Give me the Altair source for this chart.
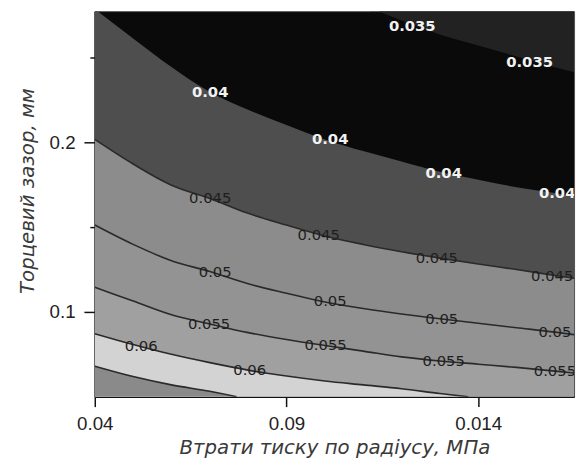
import altair as alt
import pandas as pd

# ---------------- data ----------------
X_MIN, X_MAX = 0.04, 0.165
Y_MIN, Y_MAX = 0.05, 0.2773

x_grid = [0.04, 0.05, 0.06, 0.07, 0.08, 0.09, 0.10, 0.11, 0.12, 0.13, 0.14, 0.15, 0.16, 0.165]

c035_x = [0.112, 0.12, 0.13, 0.14, 0.15, 0.16, 0.165]
c035_y = [0.2790, 0.2718, 0.2635, 0.2570, 0.2506, 0.2442, 0.2413]

c040_y = [0.2785, 0.2612, 0.2444, 0.2297, 0.2192, 0.2102, 0.2017, 0.1948, 0.1887, 0.1826, 0.1779, 0.1735, 0.1701, 0.1680]
c045_y = [0.2017, 0.1872, 0.1747, 0.1669, 0.1581, 0.1512, 0.1448, 0.1398, 0.1355, 0.1317, 0.1282, 0.1250, 0.1215, 0.1198]
c050_y = [0.1512, 0.1398, 0.1302, 0.1238, 0.1166, 0.1110, 0.1058, 0.1020, 0.0988, 0.0960, 0.0933, 0.0907, 0.0881, 0.0866]
c055_y = [0.1145, 0.1064, 0.0983, 0.0929, 0.0878, 0.0837, 0.0802, 0.0769, 0.0735, 0.0711, 0.0692, 0.0673, 0.0651, 0.0640]

c060_x = [0.04, 0.05, 0.06, 0.07, 0.08, 0.09, 0.10, 0.11, 0.12, 0.13, 0.1374]
c060_y = [0.0872, 0.0808, 0.0750, 0.0701, 0.0657, 0.0622, 0.0593, 0.0570, 0.0547, 0.0519, 0.0500]

c065_x = [0.04, 0.05, 0.06, 0.07, 0.077]
c065_y = [0.0680, 0.0619, 0.0570, 0.0532, 0.0500]

# contour labels
lab_level = [0.035, 0.035,
             0.04, 0.04, 0.04, 0.04,
             0.045, 0.045, 0.045, 0.045,
             0.05, 0.05, 0.05, 0.05,
             0.055, 0.055, 0.055, 0.055,
             0.06, 0.06]
lab_text = ["0.035", "0.035",
            "0.04", "0.04", "0.04", "0.04",
            "0.045", "0.045", "0.045", "0.045",
            "0.05", "0.05", "0.05", "0.05",
            "0.055", "0.055", "0.055", "0.055",
            "0.06", "0.06"]
lab_x = [0.1228, 0.1534,
         0.0701, 0.1014, 0.1310, 0.1606,
         0.0701, 0.0984, 0.1292, 0.1593,
         0.0714, 0.1014, 0.1305, 0.1600,
         0.0698, 0.1002, 0.1310, 0.1600,
         0.0521, 0.0804]
lab_y = [0.2686, 0.2471,
         0.2297, 0.2017, 0.1820, 0.1698,
         0.1669, 0.1453, 0.1320, 0.1209,
         0.1233, 0.1064, 0.0959, 0.0884,
         0.0930, 0.0802, 0.0709, 0.0651,
         0.0797, 0.0657]

x_tick_values = [0.04, 0.09, 0.14]
x_tick_labels = ["0.04", "0.09", "0.014"]
y_tick_values = [0.1, 0.2]
y_tick_labels = ["0.1", "0.2"]
y_minor_values = [0.15, 0.25]

x_title = "Втрати тиску по радіусу, МПа"
y_title = "Торцевий зазор, мм"

# ---------------- tables ----------------
contours = [
    (0.035, c035_x, c035_y),
    (0.04, x_grid, c040_y),
    (0.045, x_grid, c045_y),
    (0.05, x_grid, c050_y),
    (0.055, x_grid, c055_y),
    (0.06, c060_x, c060_y),
    (0.065, c065_x, c065_y),
]
rows = []
for lvl, xs, ys in contours:
    for xv, yv in zip(xs, ys):
        rows.append({"level": lvl, "x": xv, "y": yv})
df = pd.DataFrame(rows)

labels = pd.DataFrame({"level": lab_level, "label": lab_text, "x": lab_x, "y": lab_y})

# band colours (fill below each contour, grey levels of the picture)
band_fill = {0.04: "#4e4e4e", 0.045: "#8c8c8c", 0.05: "#939393",
             0.055: "#a0a0a0", 0.06: "#d3d3d3", 0.065: "#8a8a8a"}
top_fill = "#222222"
back_fill = "#0a0a0a"


def expr_labels(values, texts):
    e = "''"
    for v, t in zip(values[::-1], texts[::-1]):
        e = f"abs(datum.value - {v}) < 1e-6 ? '{t}' : ({e})"
    return e


minor_test = " || ".join(f"abs(datum.value - {v}) < 1e-6" for v in y_minor_values)

x_axis = alt.Axis(values=x_tick_values, labelExpr=expr_labels(x_tick_values, x_tick_labels),
                  title=x_title, grid=False, tickSize=10, labelPadding=8, titlePadding=5,
                  labelFlush=False)
y_axis = alt.Axis(values=y_tick_values + y_minor_values,
                  labelExpr=expr_labels(y_tick_values, y_tick_labels),
                  title=y_title, grid=False, labelFlush=False,
                  tickSize={"condition": {"test": minor_test, "value": 5}, "value": 11},
                  labelPadding=9, titlePadding=12, titleY=182)


def X():
    return alt.X("x:Q", scale=alt.Scale(domain=[X_MIN, X_MAX], nice=False, zero=False), axis=x_axis)


def Y():
    return alt.Y("y:Q", scale=alt.Scale(domain=[Y_MIN, Y_MAX], nice=False, zero=False), axis=y_axis)


layers = []
# region above the 0.035 contour
layers.append(
    alt.Chart(df).transform_filter(alt.datum.level == 0.035)
    .mark_area(color=top_fill, clip=True, opacity=1, interpolate="monotone")
    .encode(x=X(), y=Y(), y2=alt.datum(Y_MAX))
)
for lvl in [0.04, 0.045, 0.05, 0.055, 0.06, 0.065]:
    layers.append(
        alt.Chart(df).transform_filter(f"abs(datum.level - {lvl}) < 1e-9")
        .mark_area(color=band_fill[lvl], clip=True, opacity=1, interpolate="monotone")
        .encode(x=X(), y=Y(), y2=alt.datum(Y_MIN))
    )
# contour lines
layers.append(
    alt.Chart(df).transform_filter(alt.datum.level > 0.0425)
    .mark_line(color="#2a2a2a", strokeWidth=1.6, clip=True, interpolate="monotone")
    .encode(x=X(), y=Y(), detail="level:N")
)
# labels
layers.append(
    alt.Chart(labels).transform_filter(alt.datum.level < 0.0425)
    .mark_text(color="#f2f2f2", font="DejaVu Sans", fontSize=15, fontWeight="bold", clip=True)
    .encode(x=X(), y=Y(), text="label:N")
)
layers.append(
    alt.Chart(labels).transform_filter(alt.datum.level > 0.0425)
    .mark_text(color="#1e1e1e", font="DejaVu Sans", fontSize=15, clip=True)
    .encode(x=X(), y=Y(), text="label:N")
)

chart = (
    alt.layer(*layers)
    .properties(width=486, height=391, autosize=alt.AutoSizeParams(type="none"),
                padding={"left": 88, "top": 0, "right": 5, "bottom": 64},
                background="white")
    .configure_view(fill=back_fill, stroke="#555555", strokeWidth=1)
    .configure_axis(domainColor="#111111", domainWidth=1.8, tickColor="#111111", tickWidth=1.5,
                    labelFont="Liberation Sans", labelFontSize=19, labelColor="#222222",
                    titleFont="DejaVu Sans", titleFontSize=20, titleFontStyle="italic",
                    titleFontWeight="normal", titleColor="#3a3a3a")
)

chart.save("out.html", embed_options={"renderer": "svg", "actions": False})
